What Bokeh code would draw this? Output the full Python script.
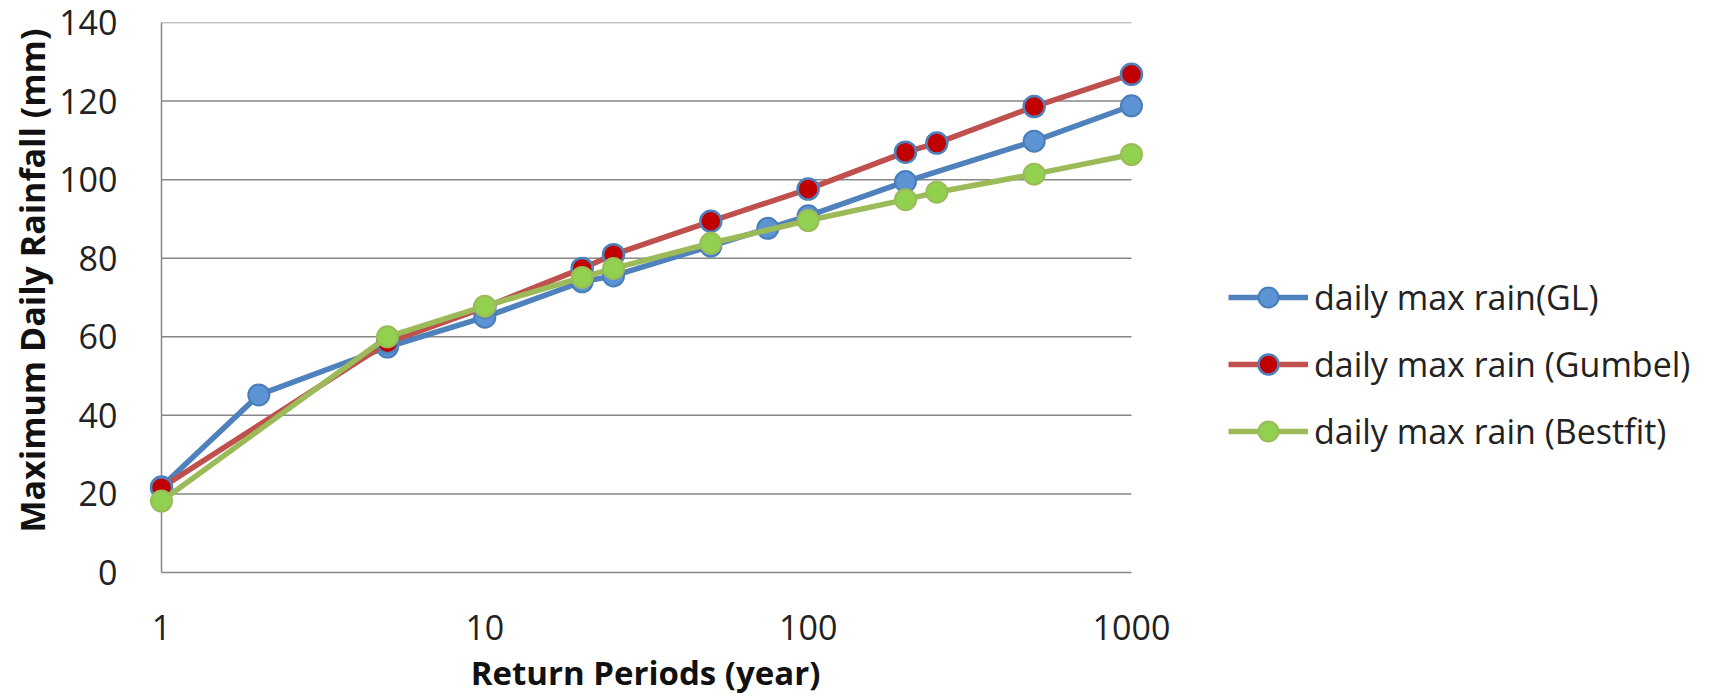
from bokeh.plotting import figure
from bokeh.models import FixedTicker, Legend, LegendItem, Range1d, Title
from bokeh.core.properties import value
from bokeh.embed import file_html
from bokeh.resources import INLINE

# ---- data ----
t_gl = [1, 2, 5, 10, 20, 25, 50, 75, 100, 200, 500, 1000]
rain_gl = [21.8, 45.2, 57.4, 65.0, 74.0, 75.5, 83.1, 87.6, 90.8, 99.5, 109.8, 118.8]

t_gumbel = [1, 5, 10, 20, 25, 50, 100, 200, 250, 500, 1000]
rain_gumbel = [21.6, 58.5, 67.5, 77.4, 80.9, 89.4, 97.6, 107.0, 109.3, 118.6, 126.8]

t_best = [1, 5, 10, 20, 25, 50, 100, 200, 250, 500, 1000]
rain_best = [18.2, 60.0, 67.8, 75.1, 77.4, 83.8, 89.6, 94.9, 96.8, 101.4, 106.4]

x_ticks = [1, 10, 100, 1000]
x_tick_labels = ["1", "10", "100", "1000"]
y_ticks = [0, 20, 40, 60, 80, 100, 120, 140]
labels = ["daily max rain(GL)", "daily max rain (Gumbel)", "daily max rain (Bestfit)"]
x_title = "Return Periods (year)"
y_title = "Maximum Daily Rainfall (mm)"

FONT = "Open Sans"

# layout (pixels)
W, H = 1710, 698
left_px, right_px = 141, 1700        # frame edges
decade = 323.33                      # px per decade on x
x0_px = 161                          # where x=1 sits
top_px, zero_px = 22, 572            # y=140 and y=0 positions
frame_bottom = 698
ppu = (zero_px - top_px) / (y_ticks[-1] - y_ticks[0])   # px per y unit

x_start = 10 ** (-(x0_px - left_px) / decade)
x_end = 10 ** ((right_px - x0_px) / decade)
y_start = -(frame_bottom - zero_px) / ppu

p = figure(width=W, height=H, x_axis_type="log",
           x_range=Range1d(x_start, x_end), y_range=Range1d(y_start, y_ticks[-1]),
           output_backend="svg", toolbar_location=None,
           min_border_left=left_px, min_border_right=W - right_px,
           min_border_top=top_px, min_border_bottom=H - frame_bottom)
p.outline_line_color = None
p.background_fill_color = "white"

p.xaxis.visible = False
p.yaxis.ticker = FixedTicker(ticks=y_ticks, minor_ticks=[])
ya = p.yaxis[0]
ya.major_tick_line_color = None
ya.minor_tick_line_color = None
ya.axis_line_color = None
ya.major_label_text_font = FONT
ya.major_label_text_font_size = "34px"
ya.major_label_text_color = "#222222"
ya.major_label_standoff = 18

yt = Title(text=y_title, align="left", offset=frame_bottom - 532, standoff=3,
           text_font=FONT, text_font_style="bold", text_font_size="34px",
           text_color="#111111")
p.add_layout(yt, "left")

p.xgrid.grid_line_color = None
p.ygrid.grid_line_color = None

# gridlines and left axis line restricted to the plotted x span
gx0 = [x_ticks[0]] * len(y_ticks)
gx1 = [x_ticks[-1]] * len(y_ticks)
p.segment(gx0, y_ticks, gx1, y_ticks, line_color="#868686", line_width=1.5)
p.segment([x_ticks[0]], [y_ticks[0]], [x_ticks[0]], [y_ticks[-1]],
          line_color="#868686", line_width=1.5)

# x tick labels and x title as text below the y=0 line
lab_y = -(627 - zero_px) / ppu
p.text(x_ticks, [lab_y] * len(x_ticks), text=x_tick_labels,
       text_font=value(FONT), text_font_size=value("34px"), text_color="#222222",
       text_align="center", text_baseline="middle")
title_x = 10 ** ((645 - x0_px) / decade)
title_y = -(672 - zero_px) / ppu
p.text([title_x], [title_y], text=[x_title],
       text_font=value(FONT), text_font_size=value("33px"), text_font_style="bold",
       text_color="#111111", text_align="center", text_baseline="middle")

lw = 5.5
ms = 21
l1 = p.line(t_gl, rain_gl, line_color="#4F81BD", line_width=lw)
s1 = p.scatter(t_gl, rain_gl, size=ms, fill_color="#5B93D3", line_color="#4A7EBB", line_width=2)
l2 = p.line(t_gumbel, rain_gumbel, line_color="#C0504D", line_width=lw)
s2 = p.scatter(t_gumbel, rain_gumbel, size=ms, fill_color="#C00000", line_color="#4F81BD", line_width=2.5)
l3 = p.line(t_best, rain_best, line_color="#9BBB59", line_width=lw)
s3 = p.scatter(t_best, rain_best, size=ms, fill_color="#92D050", line_color="#9BBB59", line_width=2)

legend = Legend(items=[LegendItem(label=labels[0], renderers=[l1, s1]),
                       LegendItem(label=labels[1], renderers=[l2, s2]),
                       LegendItem(label=labels[2], renderers=[l3, s3])],
                location=(1228 - left_px, frame_bottom - 456), orientation="vertical")
legend.glyph_width = 80
legend.glyph_height = 50
legend.label_height = 50
legend.spacing = 17
legend.padding = 0
legend.margin = 0
legend.label_standoff = 6
legend.border_line_color = None
legend.background_fill_alpha = 0
legend.label_text_font = FONT
legend.label_text_font_size = "34px"
legend.label_text_color = "#222222"
p.add_layout(legend, "center")

open("out.html", "w").write(file_html(p, INLINE))
